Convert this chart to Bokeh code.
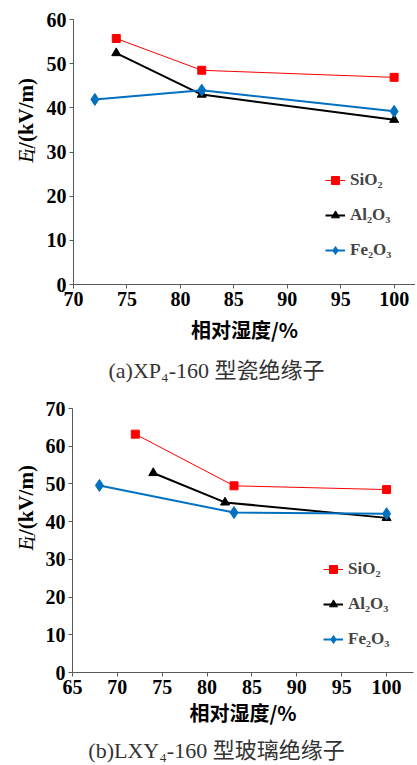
import math
from bokeh.plotting import figure
from bokeh.models import FixedTicker, Range1d
from bokeh.core.properties import value
from bokeh.layouts import column, row
from bokeh.embed import file_html
from bokeh.resources import INLINE

# ---- data (top: XP4-160 porcelain) ----
top_x_sio2 = [74, 82, 100]
top_sio2 = [55.7, 48.5, 46.9]
top_x_al2o3 = [74, 82, 100]
top_al2o3 = [52.4, 43.0, 37.3]
top_x_fe2o3 = [72, 82, 100]
top_fe2o3 = [41.9, 44.0, 39.2]
top_xticks = [70, 75, 80, 85, 90, 95, 100]
top_yticks = [0, 10, 20, 30, 40, 50, 60]

# ---- data (bottom: LXY4-160 glass) ----
bot_x_sio2 = [72, 83, 100]
bot_sio2 = [63.2, 49.5, 48.5]
bot_x_al2o3 = [74, 82, 100]
bot_al2o3 = [52.9, 45.1, 41.0]
bot_x_fe2o3 = [68, 83, 100]
bot_fe2o3 = [49.6, 42.4, 42.1]
bot_xticks = [65, 70, 75, 80, 85, 90, 95, 100]
bot_yticks = [0, 10, 20, 30, 40, 50, 60, 70]

series_names = ["SiO₂", "Al₂O₃", "Fe₂O₃"]
x_title = "相对湿度/%"
y_title_parts = ["E", "L", "/(kV/m)"]
captions = ["(a)XP₄-160 型瓷绝缘子", "(b)LXY₄-160 型玻璃绝缘子"]

SERIF = "'Liberation Serif', 'Noto Sans CJK SC'"
RED = "#FF0000"
BLACK = "#000000"
BLUE = "#0070C0"
LABW = 40
TOTW = 415


def blank(w, h):
    f = figure(width=w, height=h, output_backend="svg", toolbar_location=None,
               x_range=Range1d(0, w), y_range=Range1d(0, h),
               x_axis_type=None, y_axis_type=None, min_border=0)
    f.outline_line_color = None
    f.grid.visible = False
    return f


def ylabel_fig(h, ybase):
    f = blank(LABW, h)
    ang = math.pi / 2
    cx = 25
    f.text(x=[cx], y=[ybase], text=[y_title_parts[0]], angle=ang,
           text_font=value(SERIF), text_font_style="italic", text_font_size="21px",
           text_baseline="middle", text_align="left", text_color="black")
    f.text(x=[cx + 5], y=[ybase + 12], text=[y_title_parts[1]], angle=ang,
           text_font=value(SERIF), text_font_style="italic", text_font_size="14px",
           text_baseline="middle", text_align="left", text_color="black")
    f.text(x=[cx], y=[ybase + 20], text=[y_title_parts[2]], angle=ang,
           text_font=value(SERIF), text_font_style="bold", text_font_size="21px",
           text_baseline="middle", text_align="left", text_color="black")
    return f


def caption_fig(h, text, yc):
    f = blank(TOTW, h)
    f.text(x=[216], y=[yc], text=[text], text_font=value(SERIF),
           text_font_size="22px", text_color="#333333",
           text_baseline="middle", text_align="center")
    return f


def make(xs, ys, xticks, yticks, xr, yr, h, mb, leg_loc, xstand):
    p = figure(width=TOTW - LABW, height=h, output_backend="svg", toolbar_location=None,
               x_range=Range1d(*xr), y_range=Range1d(*yr),
               min_border_left=mb[0], min_border_right=mb[3],
               min_border_top=mb[1], min_border_bottom=mb[2])
    p.outline_line_color = None
    p.grid.visible = False
    for ax in (p.xaxis[0], p.yaxis[0]):
        ax.axis_line_color = "#595959"
        ax.major_tick_line_color = "#595959"
        ax.major_tick_out = 4
        ax.major_tick_in = 0
        ax.minor_tick_line_color = None
        ax.major_label_text_font = SERIF
        ax.major_label_text_font_style = "bold"
        ax.major_label_text_font_size = "20px"
        ax.major_label_text_color = "black"
        ax.major_label_standoff = 3
    p.xaxis.ticker = FixedTicker(ticks=xticks)
    p.yaxis.ticker = FixedTicker(ticks=yticks)
    p.xaxis.axis_label = x_title
    p.xaxis.axis_label_text_font = "'Noto Sans CJK SC'"
    p.xaxis.axis_label_text_font_style = "bold"
    p.xaxis.axis_label_text_font_size = "20px"
    p.xaxis.axis_label_text_color = "black"
    p.xaxis.axis_label_standoff = xstand

    specs = [
        (xs[0], ys[0], RED, 1, "square", 8),
        (xs[1], ys[1], BLACK, 2, "triangle", 9),
        (xs[2], ys[2], BLUE, 2, "diamond", 12),
    ]
    for (x, y, c, lw, mk, sz), name in zip(specs, series_names):
        p.line(x, y, line_color=c, line_width=lw, legend_label=name)
        p.scatter(x, y, marker=mk, size=sz, fill_color=c, line_color=c, legend_label=name)

    lg = p.legend[0]
    lg.location = leg_loc
    lg.border_line_color = None
    lg.background_fill_alpha = 0
    lg.padding = 0
    lg.margin = 0
    lg.spacing = 15
    lg.glyph_width = 20
    lg.glyph_height = 20
    lg.label_height = 20
    lg.label_standoff = 5
    lg.label_text_font = SERIF
    lg.label_text_font_style = "bold"
    lg.label_text_font_size = "17px"
    return p


H1, H2 = 355, 342
p1 = make([top_x_sio2, top_x_al2o3, top_x_fe2o3], [top_sio2, top_al2o3, top_fe2o3],
          top_xticks, top_yticks, (70, 102), (0, 60), H1, (33, 19, 71, 0), (252, 24), 6)
p2 = make([bot_x_sio2, bot_x_al2o3, bot_x_fe2o3], [bot_sio2, bot_al2o3, bot_fe2o3],
          bot_xticks, bot_yticks, (65, 103), (0, 70), H2, (32, 20, 58, 2), (251, 23), 1)

layout = column(
    row(ylabel_fig(H1, H1 - 192), p1, spacing=0),
    caption_fig(33, captions[0], 18),
    row(ylabel_fig(H2, H2 - 184), p2, spacing=0),
    caption_fig(35, captions[1], 15),
    spacing=0,
)
open("out.html", "w").write(file_html(layout, INLINE))
